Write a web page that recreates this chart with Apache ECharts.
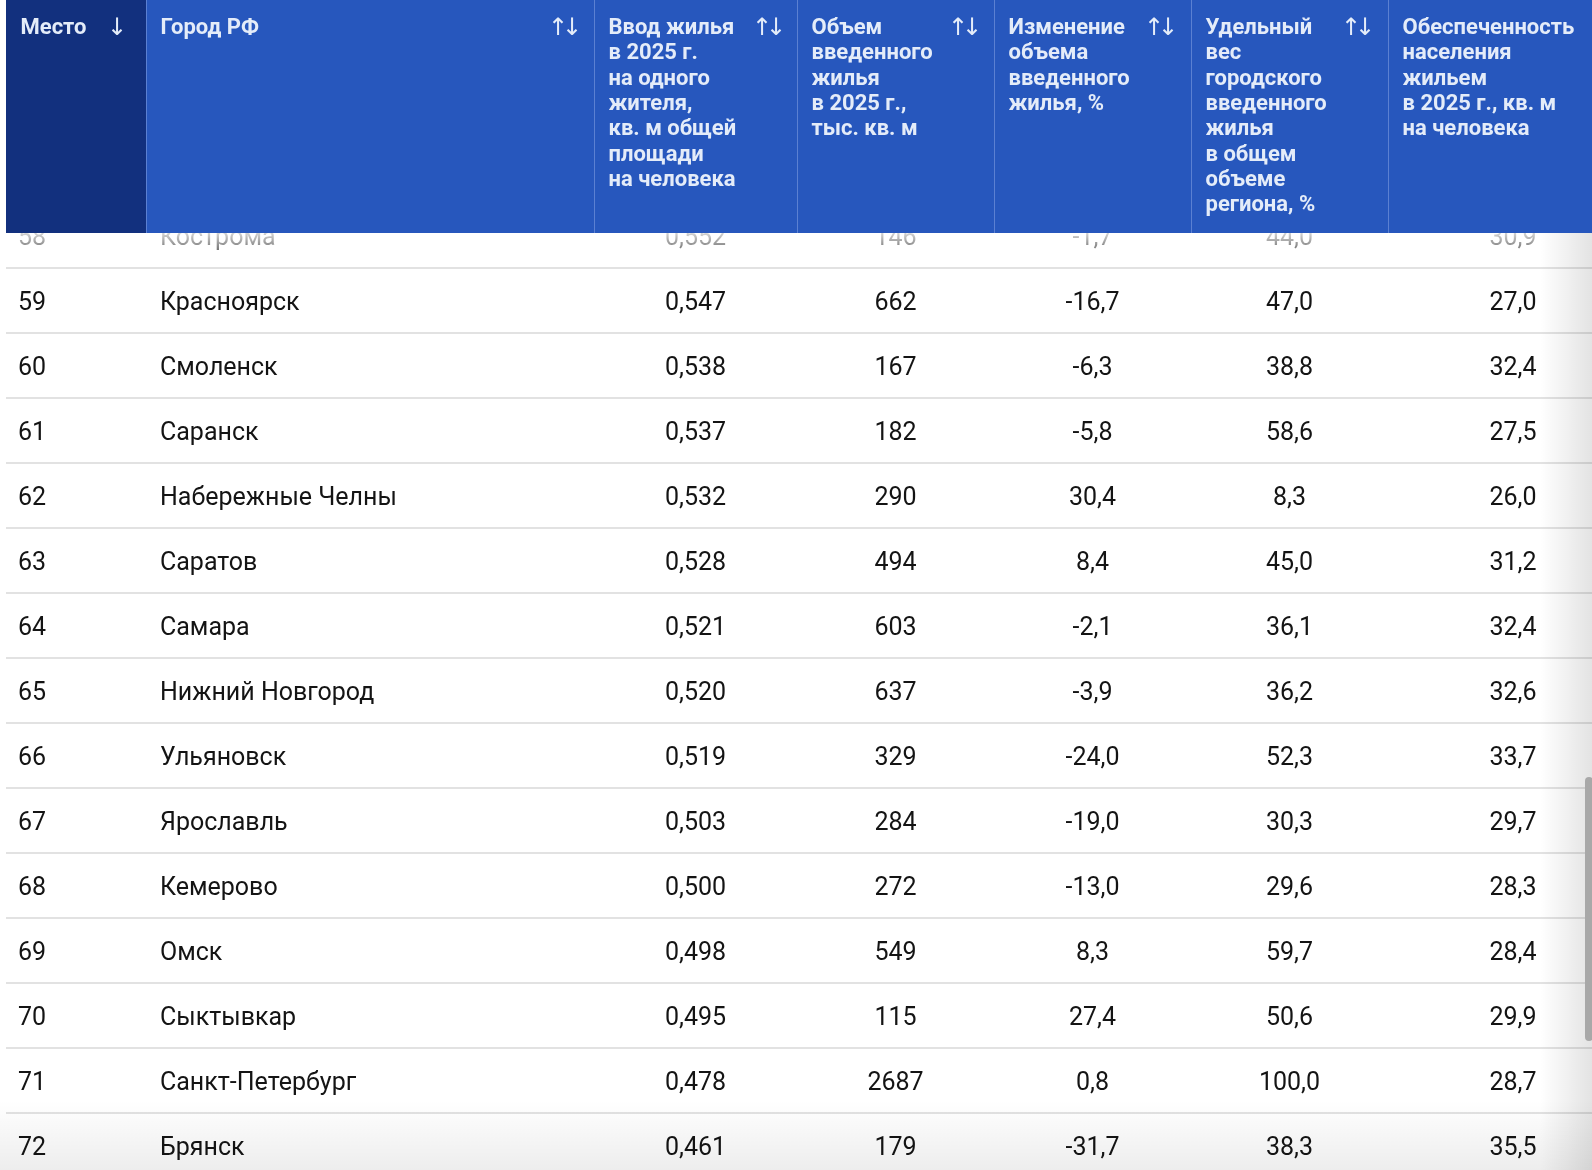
<!DOCTYPE html>
<html><head><meta charset="utf-8">
<script src="https://cdn.jsdelivr.net/npm/echarts@6/dist/echarts.min.js"></script>
<style>html,body{margin:0;padding:0;background:#fff;}#c{width:1592px;height:1170px;}</style>
</head><body><div id="c"></div>
<script>
const places = [58, 59, 60, 61, 62, 63, 64, 65, 66, 67, 68, 69, 70, 71, 72];
const cities = ['Кострома', 'Красноярск', 'Смоленск', 'Саранск', 'Набережные Челны', 'Саратов', 'Самара', 'Нижний Новгород', 'Ульяновск', 'Ярославль', 'Кемерово', 'Омск', 'Сыктывкар', 'Санкт-Петербург', 'Брянск'];
const perResident = [0.552, 0.547, 0.538, 0.537, 0.532, 0.528, 0.521, 0.520, 0.519, 0.503, 0.500, 0.498, 0.495, 0.478, 0.461];
const volume = [146, 662, 167, 182, 290, 494, 603, 637, 329, 284, 272, 549, 115, 2687, 179];
const changePct = [-1.7, -16.7, -6.3, -5.8, 30.4, 8.4, -2.1, -3.9, -24.0, -19.0, -13.0, 8.3, 27.4, 0.8, -31.7];
const sharePct = [44.0, 47.0, 38.8, 58.6, 8.3, 45.0, 36.1, 36.2, 52.3, 30.3, 29.6, 59.7, 50.6, 100.0, 38.3];
const provision = [30.9, 27.0, 32.4, 27.5, 26.0, 31.2, 32.4, 32.6, 33.7, 29.7, 28.3, 28.4, 29.9, 28.7, 35.5];
const headerLabels = [
  'Место',
  'Город РФ',
  'Ввод жилья\nв 2025 г.\nна одного\nжителя,\nкв. м общей\nплощади\nна человека',
  'Объем\nвведенного\nжилья\nв 2025 г.,\nтыс. кв. м',
  'Изменение\nобъема\nвведенного\nжилья, %',
  'Удельный\nвес\nгородского\nвведенного\nжилья\nв общем\nобъеме\nрегиона, %',
  'Обеспеченность\nнаселения\nжильем\nв 2025 г., кв. м\nна человека'
];
const sortIcons = ['↓', '↑↓', '↑↓', '↑↓', '↑↓', '↑↓', ''];

// layout (styles only)
const W = 1592, H = 1170;
const colEdges = [6, 146, 594, 797, 994, 1191, 1388, 1640];
const iconX = [117, 565, 769, 965, 1161, 1358];
const headerH = 233;
const rowH = 65;
const FONT = 'Roboto, "Noto Sans", "DejaVu Sans", sans-serif';

const fmt = (v, d) => v.toFixed(d).replace('.', ',');

const seriesData = places.map((p, i) => [i, p, cities[i], fmt(perResident[i], 3), String(volume[i]), fmt(changePct[i], 1), fmt(sharePct[i], 1), fmt(provision[i], 1)]);

function renderItem(params, api) {
  const i = api.value(0);
  const c = api.coord([0, i]);
  const h = api.size([0, 1])[1];
  const yc = c[1];
  const xAt = x => api.coord([x, i])[0];
  const row = seriesData[params.dataIndex];
  const children = [];
  children.push({type: 'line', shape: {x1: xAt(colEdges[0]), y1: yc + h / 2, x2: xAt(W), y2: yc + h / 2}, style: {stroke: '#d9d9d9', lineWidth: 1.5}});
  const txt = (s, x, align) => ({type: 'text', style: {text: s, x: x, y: yc + 3, align: align, verticalAlign: 'middle', fill: '#141414', fontSize: 25, fontFamily: FONT}});
  children.push(txt(String(row[1]), xAt(colEdges[0] + 12), 'left'));
  children.push(txt(row[2], xAt(colEdges[1] + 14), 'left'));
  for (let k = 2; k < 7; k++) {
    let cx = (colEdges[k] + colEdges[k + 1]) / 2;
    if (k === 6) cx = 1513;
    children.push(txt(row[k + 1], xAt(cx), 'center'));
  }
  return {type: 'group', children: children};
}

const graphics = [];
// top fade under header
graphics.push({type: 'rect', z: 90, shape: {x: 0, y: headerH, width: W, height: 34},
  style: {fill: new echarts.graphic.LinearGradient(0, 0, 0, 1, [{offset: 0, color: 'rgba(255,255,255,0.82)'}, {offset: 1, color: 'rgba(255,255,255,0)'}])}});
// right shadow
graphics.push({type: 'rect', z: 90, shape: {x: 1540, y: headerH, width: W - 1540, height: H - headerH},
  style: {fill: new echarts.graphic.LinearGradient(0, 0, 1, 0, [{offset: 0, color: 'rgba(0,0,0,0)'}, {offset: 1, color: 'rgba(0,0,0,0.11)'}])}});
// bottom shade
graphics.push({type: 'rect', z: 90, shape: {x: 0, y: 1100, width: W, height: H - 1100},
  style: {fill: new echarts.graphic.LinearGradient(0, 0, 0, 1, [{offset: 0, color: 'rgba(0,0,0,0)'}, {offset: 1, color: 'rgba(0,0,0,0.07)'}])}});
// scrollbar
graphics.push({type: 'rect', z: 95, shape: {x: 1585, y: 777, width: 8, height: 264, r: 4}, style: {fill: '#a8a8a8'}});
// header
for (let k = 0; k < 7; k++) {
  graphics.push({type: 'rect', z: 100, shape: {x: colEdges[k], y: 0, width: colEdges[k + 1] - colEdges[k], height: headerH},
    style: {fill: k === 0 ? '#12307e' : '#2757bd'}});
  if (k > 0) graphics.push({type: 'line', z: 101, shape: {x1: colEdges[k] + 0.5, y1: 0, x2: colEdges[k] + 0.5, y2: headerH}, style: {stroke: '#5b80d2', lineWidth: 1}});
  graphics.push({type: 'text', z: 102, style: {text: headerLabels[k], x: colEdges[k] + 14.5, y: 16, align: 'left', verticalAlign: 'top',
    fill: '#e4ecf9', fontSize: 22, fontWeight: 'bold', lineHeight: 25.3, fontFamily: FONT}});
  const icon = sortIcons[k];
  if (icon === '↓') {
    graphics.push({type: 'text', z: 102, style: {text: '↓', x: iconX[k], y: 29, align: 'center', verticalAlign: 'middle',
      fill: '#e4ecf9', fontSize: 24, fontFamily: FONT}});
  } else if (icon) {
    graphics.push({type: 'text', z: 102, style: {text: '↑', x: iconX[k] - 7, y: 29, align: 'center', verticalAlign: 'middle',
      fill: '#e4ecf9', fontSize: 24, fontFamily: FONT}});
    graphics.push({type: 'text', z: 102, style: {text: '↓', x: iconX[k] + 7, y: 29, align: 'center', verticalAlign: 'middle',
      fill: '#e4ecf9', fontSize: 24, fontFamily: FONT}});
  }
}

const chart = echarts.init(document.getElementById('c'), null, {renderer: 'canvas'});
chart.setOption({
  animation: false,
  backgroundColor: '#ffffff',
  grid: {left: 0, right: 0, top: 203, height: rowH * places.length, outerBoundsMode: 'none', containLabel: false},
  xAxis: {type: 'value', min: 0, max: W, show: false},
  yAxis: {type: 'category', data: places.map(String), inverse: true, show: false},
  series: [{type: 'custom', renderItem: renderItem, data: seriesData, clip: false, z: 2}],
  graphic: graphics
});
</script></body></html>
